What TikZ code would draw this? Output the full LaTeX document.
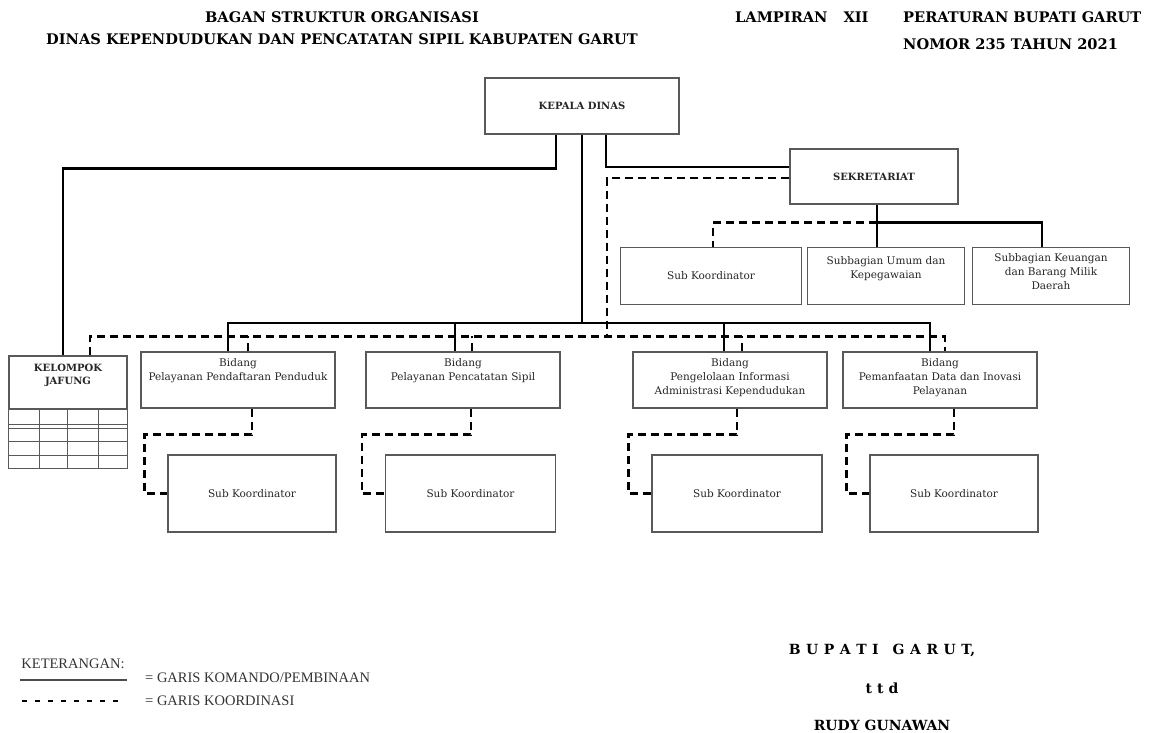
\documentclass[tikz,border=0pt]{standalone}
\usepackage{fontspec}
\setmainfont{DejaVu Serif}
\newfontfamily\legfont{Liberation Serif}
\usetikzlibrary{calc}
\begin{document}
\begin{tikzpicture}[x=1pt,y=-1pt,
  box/.style={draw=black!65, line width=1.1pt, fill=white, inner sep=0pt, text=black!85,
              font=\fontsize{10.5}{13.5}\selectfont, align=center},
  bbox/.style={box, font=\fontsize{10}{13}\selectfont\bfseries},
  lbl/.style={font=\fontsize{10.5}{14}\selectfont, align=center, text=black!85, inner sep=0pt, anchor=north},
  cmd/.style={line width=2.2pt, black},
  crd/.style={line width=2.2pt, black, dash pattern=on 8pt off 5pt},
  head/.style={font=\fontsize{14.6}{16}\selectfont\bfseries, inner sep=0pt},
  sig/.style={font=\fontsize{14}{16}\selectfont\bfseries, inner sep=0pt},
  leg/.style={font=\legfont\fontsize{14.5}{16}\selectfont, inner sep=0pt, text=black!80},
  gridl/.style={draw=black!65, line width=1pt}]
\useasboundingbox (0,0) rectangle (1150,732);

% headers
\node[head] (h1) at (342,17) {BAGAN STRUKTUR ORGANISASI};
\node[head] (h2) at (342,39) {DINAS KEPENDUDUKAN DAN PENCATATAN SIPIL KABUPATEN GARUT};
\node[head, anchor=west] (h3) at (735,17) {LAMPIRAN\hspace{16pt}XII};
\node[head, anchor=west] (h4) at (903,17) {PERATURAN BUPATI GARUT};
\node[head, anchor=west] (h5) at (903,44) {NOMOR 235 TAHUN 2021};

% boxes
\node[bbox, minimum width=194pt, minimum height=56pt] (kd) at (582,106) {KEPALA DINAS};
\node[bbox, minimum width=168pt, minimum height=55pt] (sek) at (874,176.5) {SEKRETARIAT};
\node[box, minimum width=181pt, minimum height=57pt] (s1) at (711,276) {Sub Koordinator};
\node[box, minimum width=157pt, minimum height=57pt] (s2) at (886,276) {};
\node[lbl] at ([yshift=-9pt]s2.north) {Subbagian Umum dan\\Kepegawaian};
\node[box, minimum width=157pt, minimum height=57pt] (s3) at (1051,276) {};
\node[lbl] at ([yshift=-6pt]s3.north) {Subbagian Keuangan\\dan Barang Milik\\Daerah};

\node[box, minimum width=118pt, minimum height=53pt] (jf) at (68,382.5) {};
\node[lbl, font=\fontsize{10}{13}\selectfont\bfseries] at ([yshift=-8pt]jf.north) {KELOMPOK\\JAFUNG};

\node[box, minimum width=194pt, minimum height=56pt] (b1) at (238,380) {};
\node[lbl] at ([yshift=-7pt]b1.north) {Bidang\\Pelayanan Pendaftaran Penduduk};
\node[box, minimum width=194pt, minimum height=56pt] (b2) at (463,380) {};
\node[lbl] at ([yshift=-7pt]b2.north) {Bidang\\Pelayanan Pencatatan Sipil};
\node[box, minimum width=194pt, minimum height=56pt] (b3) at (730,380) {};
\node[lbl] at ([yshift=-7pt]b3.north) {Bidang\\Pengelolaan Informasi\\Administrasi Kependudukan};
\node[box, minimum width=194pt, minimum height=56pt] (b4) at (940,380) {};
\node[lbl] at ([yshift=-7pt]b4.north) {Bidang\\Pemanfaatan Data dan Inovasi\\Pelayanan};

\node[box, minimum width=168pt, minimum height=77pt] (k1) at (252,493.5) {Sub Koordinator};
\node[box, minimum width=170pt, minimum height=77pt] (k2) at (470.5,493.5) {Sub Koordinator};
\node[box, minimum width=170pt, minimum height=77pt] (k3) at (737,493.5) {Sub Koordinator};
\node[box, minimum width=168pt, minimum height=77pt] (k4) at (954,493.5) {Sub Koordinator};

% kelompok jafung grid
\draw[gridl] (jf.south west) rectangle (127,468);
\foreach \yy in {424,428,441,455} \draw[gridl] (9,\yy) -- (127,\yy);
\foreach \xx in {39,67,98} \draw[gridl] (\xx,409) -- (\xx,468);

% command lines
\coordinate (bus) at (582,323);
\coordinate (dbus) at (607,336.5);
\draw[cmd] ([xshift=-26pt]kd.south) -- ++(0,34) -| ([xshift=-5pt]jf.north);
\draw[cmd] ([xshift=24pt]kd.south) |- ([yshift=9.5pt]sek.west);
\draw[cmd] (kd.south) -- (bus);
\draw[cmd] ([xshift=-10pt]b1.north) |- (bus) -| ([xshift=-10pt]b4.north);
\draw[cmd] ([xshift=-8pt]b2.north) -- ++(0,-29);
\draw[cmd] ([xshift=-6pt]b3.north) -- ++(0,-29);
\draw[cmd] ([xshift=3pt]sek.south) -- ([xshift=3pt]sek.south |- s2.north);
\draw[cmd] ([xshift=3pt]sek.south) ++(0,18) -| ([xshift=-9pt]s3.north);

% coordination lines
\draw[crd] ([xshift=3pt]sek.south) ++(0,18) -| ([xshift=2pt]s1.north);
\draw[crd] ([yshift=-1.5pt]sek.west) -| (dbus);
\draw[crd] ([xshift=22pt]jf.north) |- (dbus) -| ([xshift=5pt]b4.north);
\draw[crd] ([xshift=10pt]b1.north) -- ++(0,-15.5);
\draw[crd] ([xshift=9pt]b2.north) -- ++(0,-15.5);
\draw[crd] ([xshift=12pt]b3.north) -- ++(0,-15.5);
\draw[crd] ([xshift=14pt]b1.south) -- ++(0,26) -| ([xshift=-23pt]k1.west) -- (k1.west);
\draw[crd] ([xshift=8pt]b2.south) -- ++(0,26) -| ([xshift=-23pt]k2.west) -- (k2.west);
\draw[crd] ([xshift=7pt]b3.south) -- ++(0,26) -| ([xshift=-23pt]k3.west) -- (k3.west);
\draw[crd] ([xshift=14pt]b4.south) -- ++(0,26) -| ([xshift=-23pt]k4.west) -- (k4.west);

% legend
\node[leg] (ket) at (73,664) {KETERANGAN:};
\coordinate (ls1) at (20,680);
\coordinate (ls2) at (127,680);
\coordinate (ld1) at (22,701);
\coordinate (ld2) at (124,701);
\draw[line width=2.6pt, black!70] (ls1) -- (ls2);
\draw[line width=2.4pt, black, dash pattern=on 5pt off 8pt] (ld1) -- (ld2);
\node[leg, anchor=west] (lg1) at (145,678) {= GARIS KOMANDO/PEMBINAAN};
\node[leg, anchor=west] (lg2) at (145,701) {= GARIS KOORDINASI};

% signature
\node[sig] (sg1) at (882,650) {B\hspace{5.5pt}U\hspace{5.5pt}P\hspace{5.5pt}A\hspace{5.5pt}T\hspace{5.5pt}I\hspace{14pt}G\hspace{5.5pt}A\hspace{5.5pt}R\hspace{5.5pt}U\hspace{5.5pt}T,};
\node[sig] (sg2) at (882,688) {t\hspace{5pt}t\hspace{5pt}d};
\node[sig] (sg3) at (882,725) {RUDY GUNAWAN};
\end{tikzpicture}
\end{document}
